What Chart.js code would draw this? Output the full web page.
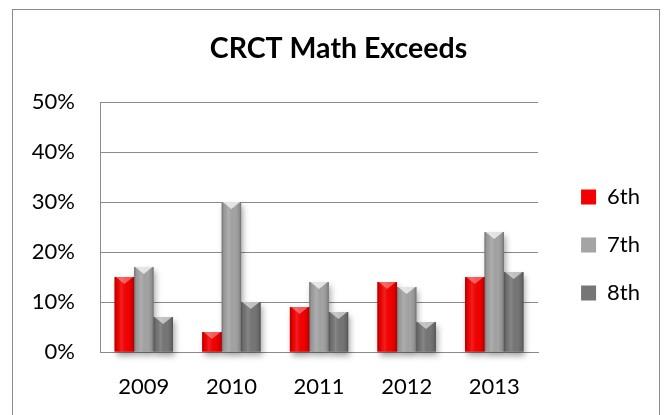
<!DOCTYPE html>
<html>
    <head>
        <meta charset="utf-8" />
        <title>CRCT Math Exceeds</title>
        <script src="https://cdn.jsdelivr.net/npm/chart.js@4.4.1/dist/chart.umd.min.js"></script>
        <style>
            body { margin: 0; background: #fff; }
            #frame { position: absolute; left: 12px; top: 9px; width: 646px; height: 430px; border: 1px solid #8a8a8a; }
            #box { position: absolute; left: 0; top: 0; width: 668px; height: 415px; }
        </style>
    </head>
    <body>
        <div id="frame"></div>
        <div id="box"><canvas id="myChart" width="668" height="415"></canvas></div>
        <script>
            const years = ["2009", "2010", "2011", "2012", "2013"];
            const grade6 = [15, 4, 9, 14, 15];
            const grade7 = [17, 30, 14, 13, 24];
            const grade8 = [7, 10, 8, 6, 16];
            const seriesNames = ["6th", "7th", "8th"];
            const seriesColors = ["#f40000", "#a4a4a4", "#767676"];
            const bevelAlpha = [0.35, 0.7, 0.55];

            // soft shadow under the columns, drawn before the bars themselves
            const shadows = {
                id: "shadows",
                beforeDatasetsDraw(chart) {
                    const ctx = chart.ctx;
                    ctx.save();
                    ctx.shadowColor = "rgba(0,0,0,0.35)";
                    ctx.shadowBlur = 6;
                    ctx.shadowOffsetX = 2;
                    ctx.shadowOffsetY = 4;
                    chart.data.datasets.forEach((ds, i) => {
                        ctx.fillStyle = seriesColors[i];
                        chart.getDatasetMeta(i).data.forEach(bar => {
                            ctx.fillRect(bar.x - bar.width / 2, bar.y, bar.width, bar.base - bar.y);
                        });
                    });
                    ctx.restore();
                },
                afterDatasetsDraw(chart) {
                    const ctx = chart.ctx;
                    ctx.save();
                    chart.data.datasets.forEach((ds, i) => {
                        chart.getDatasetMeta(i).data.forEach(bar => {
                            const l = bar.x - bar.width / 2, r = bar.x + bar.width / 2;
                            const t = bar.y, b = bar.base;
                            let g = ctx.createLinearGradient(l, 0, r, 0);
                            g.addColorStop(0, "rgba(0,0,0,0.30)");
                            g.addColorStop(0.12, "rgba(0,0,0,0.06)");
                            g.addColorStop(0.35, "rgba(255,255,255,0.12)");
                            g.addColorStop(0.7, "rgba(0,0,0,0)");
                            g.addColorStop(0.9, "rgba(0,0,0,0.12)");
                            g.addColorStop(1, "rgba(0,0,0,0.32)");
                            ctx.fillStyle = g;
                            ctx.fillRect(l, t, r - l, b - t);
                            let h = Math.min(7, (b - t) / 2);
                            ctx.beginPath();
                            ctx.moveTo(l + 1, t);
                            ctx.lineTo(r - 1, t);
                            ctx.lineTo(bar.x, t + h);
                            ctx.closePath();
                            ctx.fillStyle = "rgba(255,255,255," + bevelAlpha[i] + ")";
                            ctx.fill();
                        });
                    });
                    ctx.restore();
                },
                afterLayout(chart) {
                    // Excel puts the legend further right and lower, and the title a bit right
                    const lg = chart.legend;
                    lg.left += 17; lg.right += 17;
                    lg.top += 18; lg.bottom += 18;
                    chart.titleBlock.left += 8; chart.titleBlock.right += 8;
                }
            };

            const font = "Lato, 'Open Sans', sans-serif";

            new Chart("myChart", {
                type: "bar",
                data: {
                    labels: years,
                    datasets: [grade6, grade7, grade8].map((vals, i) => ({
                        label: seriesNames[i],
                        data: vals,
                        backgroundColor: seriesColors[i],
                        categoryPercentage: 0.665,
                        barPercentage: 1.0
                    }))
                },
                options: {
                    responsive: false,
                    animation: false,
                    layout: { padding: { left: 28, right: 35, top: 0, bottom: 14 } },
                    plugins: {
                        title: {
                            display: true,
                            text: "CRCT Math Exceeds",
                            color: "#000",
                            font: { family: font, size: 28.5, weight: "bold" },
                            padding: { top: 32, bottom: 36 }
                        },
                        legend: {
                            position: "right",
                            fullSize: false,
                            labels: {
                                color: "#000",
                                font: { family: font, size: 22 },
                                boxWidth: 15,
                                boxHeight: 15,
                                padding: 26
                            }
                        },
                        tooltip: { enabled: false }
                    },
                    scales: {
                        x: {
                            afterFit(scale) { scale.height = 49; },
                            grid: { display: false, drawTicks: false },
                            border: { display: true, color: "#8a8a8a", width: 1 },
                            ticks: { color: "#000", font: { family: font, size: 22 }, padding: 22 }
                        },
                        y: {
                            min: 0,
                            max: 50,
                            afterFit(scale) { scale.width = 72; },
                            grid: { color: "#8a8a8a", drawTicks: false },
                            border: { display: true, color: "#8a8a8a", width: 1 },
                            ticks: {
                                stepSize: 10,
                                color: "#000",
                                font: { family: font, size: 22 },
                                padding: 25,
                                callback: v => v + "%"
                            }
                        }
                    }
                },
                plugins: [shadows]
            });
        </script>
    </body>
</html>
